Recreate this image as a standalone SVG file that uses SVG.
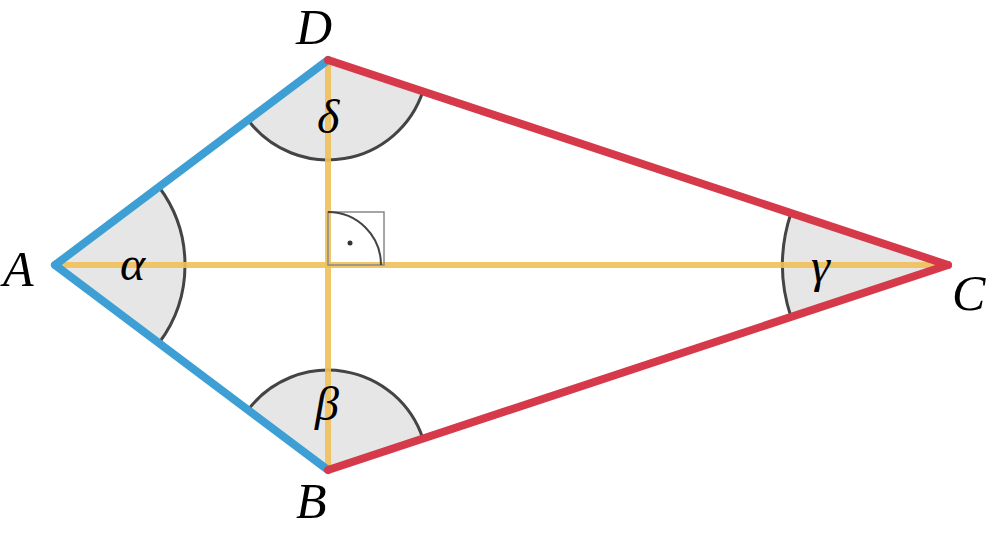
<svg xmlns="http://www.w3.org/2000/svg" width="1000" height="533" viewBox="0 0 1000 533">
<style>
.sec{fill:#e6e6e6;stroke:none}
.arc{fill:none;stroke:#444;stroke-width:3}
.blue{stroke:#3d9fd3;stroke-width:8;stroke-linecap:round}
.red{stroke:#d63a4a;stroke-width:8;stroke-linecap:round}
.yel{stroke:#f0c05a;stroke-width:6;opacity:0.9}
.lbl{font-family:"Liberation Serif",serif;font-style:italic;font-size:50px;fill:#000}
.gr{font-family:"Liberation Serif",serif;font-style:italic;font-size:48px;fill:#000}
</style>
<rect width="1000" height="533" fill="#fff"/>
<g id="angles">
<path class="sec" d="M55,265 L159,187 A130,130 0 0 1 159,343 Z"/>
<path class="arc" d="M159,187 A130,130 0 0 1 159,343"/>
<path class="sec" d="M328,60 L248,120 A100,100 0 0 0 423,91 Z"/>
<path class="arc" d="M248,120 A100,100 0 0 0 423,91"/>
<path class="sec" d="M328,470 L248,410 A100,100 0 0 1 423,439 Z"/>
<path class="arc" d="M248,410 A100,100 0 0 1 423,439"/>
<path class="sec" d="M948,265 L791,213 A165,165 0 0 0 791,317 Z"/>
<path class="arc" d="M791,213 A165,165 0 0 0 791,317"/>
</g>
<g id="diagonals">
<line class="yel" x1="55" y1="265" x2="948" y2="265"/>
<line class="yel" x1="328" y1="60" x2="328" y2="470"/>
<rect x="328" y="212" width="56" height="53" fill="none" stroke="#888" stroke-width="1.5"/>
<path d="M328,212 A53,53 0 0 1 381,265" fill="none" stroke="#444" stroke-width="2"/>
<circle cx="350" cy="243" r="2.5" fill="#333"/>
</g>
<g id="sides">
<line class="blue" x1="55" y1="265" x2="328" y2="60"/>
<line class="blue" x1="55" y1="265" x2="328" y2="470"/>
<line class="red" x1="328" y1="60" x2="948" y2="265"/>
<line class="red" x1="328" y1="470" x2="948" y2="265"/>
</g>
<g id="labels">
<text class="lbl" x="3" y="286">A</text>
<text class="lbl" x="296" y="44">D</text>
<text class="lbl" x="296" y="518">B</text>
<text class="lbl" x="952" y="310">C</text>
<text class="gr" x="120" y="280">α</text>
<text class="gr" x="317" y="133">δ</text>
<text class="gr" x="315" y="420">β</text>
<text class="gr" x="811" y="282">γ</text>
</g>
</svg>
